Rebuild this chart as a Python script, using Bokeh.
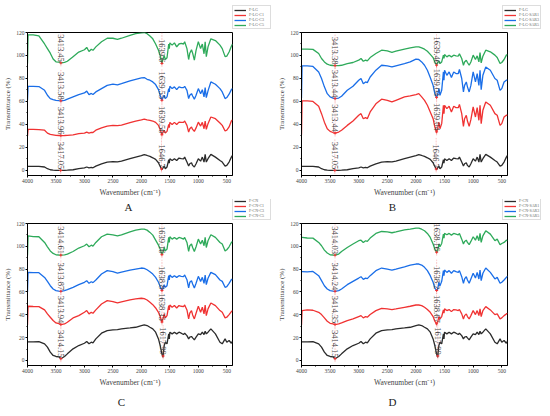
import numpy as np
from bokeh.plotting import figure
from bokeh.models import Range1d, Label, Legend, LegendItem, FixedTicker, ColumnDataSource
from bokeh.layouts import column, row
from bokeh.embed import file_html
from bokeh.resources import INLINE
from bokeh.core.properties import value

# wavenumber grid (cm-1)
W = [4000, 3990, 3900, 3800, 3700, 3650, 3600, 3550, 3500, 3450,
     3413, 3350, 3300, 3200, 3100, 3000, 2960, 2920, 2880, 2850,
     2800, 2700, 2600, 2500, 2420, 2350, 2200, 2100, 2000, 1950,
     1900, 1850, 1800, 1750, 1700, 1670, 1640, 1620, 1600, 1580,
     1550, 1520, 1510, 1500, 1460, 1420, 1380, 1340, 1300, 1260,
     1240, 1200, 1170, 1150, 1120, 1100, 1070, 1040, 1000, 960,
     930, 900, 880, 860, 830, 780, 700, 620, 580, 530,
     500, 460, 420, 400]

# transmittance (%) series
LG = [3.5, 3.5, 3.6, 3.5, 3.0, 1.5, 0.6, 0.2, 0.0, 0.0,
      0.0, 0.1, 0.2, 0.6, 1.5, 2.3, 3.0, 2.2, 2.6, 2.3,
      3.8, 5.8, 7.3, 7.6, 7.5, 8.1, 10.2, 11.6, 12.8, 13.7,
      13.0, 12.2, 11.0, 9.6, 6.7, 3.5, 0.6, 2.3, 3.8, 1.5,
      3.0, 9.3, 6.4, 10.2, 8.7, 10.2, 8.7, 10.8, 10.2, 10.0,
      11.6, 7.3, 3.8, 5.8, 6.7, 4.4, 3.0, 5.8, 10.2, 8.1,
      11.6, 7.3, 14.0, 7.3, 10.2, 14.0, 11.6, 8.7, 7.3, 3.8,
      4.4, 7.3, 11.6, 13.0]
LG_C1 = [30, 35.8, 35.8, 35.5, 35.0, 32.5, 31.4, 31.0, 30.5, 30.4,
         30.3, 30.4, 30.5, 31.0, 32.0, 32.5, 33.4, 32.5, 33.2, 33.0,
         35.0, 37.0, 38.6, 39.2, 39.0, 39.5, 41.6, 43.0, 44.0, 44.7,
         44.0, 43.6, 43.0, 41.8, 39.2, 35.5, 31.0, 33.0, 35.0, 32.5,
         34.0, 40.0, 37.2, 41.8, 40.0, 41.8, 40.0, 42.0, 41.8, 41.8,
         43.0, 39.2, 33.4, 36.3, 37.8, 35.7, 34.0, 37.0, 42.0, 38.6,
         41.8, 36.3, 43.0, 35.7, 40.7, 46.5, 45.0, 41.3, 39.2, 34.3,
         35.0, 37.8, 43.0, 44.0]
LG_C3 = [61, 73.2, 73.2, 73.0, 69.7, 65.4, 62.5, 61.6, 61.0, 60.7,
         60.5, 61.0, 62.0, 64.0, 66.0, 67.4, 69.0, 66.0, 67.0, 66.0,
         68.3, 71.2, 74.0, 75.0, 74.4, 75.5, 78.0, 79.3, 80.5, 80.8,
         79.3, 78.5, 77.0, 74.7, 70.3, 65.4, 61.0, 63.4, 65.4, 62.5,
         64.0, 71.2, 68.3, 73.2, 71.2, 72.7, 70.3, 72.7, 72.0, 72.0,
         73.2, 69.7, 62.5, 65.4, 66.8, 64.8, 62.0, 65.4, 71.2, 66.8,
         70.3, 64.0, 72.0, 63.4, 69.2, 77.0, 75.0, 71.2, 68.3, 62.5,
         63.4, 66.3, 70.3, 71.2]
LG_C5 = [93, 118, 118, 117, 110, 106, 102, 97, 94.5, 94.2,
         93.5, 94, 95, 99, 103, 105, 107, 103.5, 105.5, 104.5,
         107.5, 112, 115, 115, 114, 115, 117.5, 119, 119.7, 120,
         119, 117, 114.5, 110, 104.5, 100, 93, 97, 100, 96.5,
         98, 110, 106, 111, 109, 111, 107.5, 110, 110.5, 110,
         112, 106, 96.5, 102, 105, 102, 96, 104.5, 112, 106,
         110, 101.5, 112, 99, 107.5, 114.5, 113, 109, 106, 99,
         99.5, 103, 108, 110]
LG_SAR1 = [31, 60.5, 60.5, 60, 55.8, 49.4, 42, 36.3, 34, 33,
           32.5, 33.4, 35, 39.2, 43, 48, 49.4, 45, 46, 45,
           50.9, 58, 62, 61, 59.6, 61, 64, 64.8, 66, 66.8,
           64, 61, 56.7, 50.9, 45, 37.8, 33.4, 36.3, 42, 36.3,
           40.7, 56.7, 49.4, 56.7, 53.8, 55.8, 50.9, 55.8, 54.6, 54.6,
           57.5, 49.4, 38.4, 45, 48, 43, 38.4, 44.2, 55.2, 46.5,
           54.6, 43.6, 56.7, 40.7, 52.3, 59.6, 56.7, 49.4, 48, 39.2,
           40.7, 46.5, 48, 48]
LG_SAR3 = [63, 91, 91, 90.5, 85.7, 80, 72.7, 66.8, 64, 63,
           62.5, 63, 64.5, 69.7, 73.2, 78.5, 80, 75.5, 77, 76.4,
           81.3, 87.2, 91.5, 91, 90, 91, 93, 94.4, 96.8, 96.5,
           94.4, 91.5, 87.2, 80.8, 74, 66.8, 63.4, 66, 71.2, 65.4,
           69.7, 85.7, 78.5, 87.2, 82.8, 85.7, 80.8, 85.7, 84.3, 84.3,
           87.8, 80, 68.3, 74, 77, 72.7, 68.3, 74, 85.7, 77,
           84.3, 74, 87.2, 70.3, 82.8, 90, 87.2, 80, 78.5, 69.7,
           71.2, 77, 78.5, 78.5]
LG_SAR5 = [105.5, 105.5, 105.5, 105.3, 101.7, 97.4, 94.4, 92.4, 91.5, 91.3,
           91.2, 91.2, 91.5, 93, 93.9, 95.9, 97.4, 95, 96, 95.3,
           98.2, 101.7, 104.6, 104, 102.8, 103.7, 105.5, 106.6, 107.5, 107.5,
           106.6, 105.5, 103.7, 101, 98.2, 94.4, 91.5, 93.6, 95.3, 93,
           94.4, 100.3, 97.4, 100.8, 98.8, 100.3, 98.8, 100.3, 99.7, 99.5,
           101.4, 97.4, 91.5, 94.4, 95.9, 93.9, 91.5, 94.4, 100.3, 96.5,
           99.7, 94.4, 102.6, 93.6, 99.4, 104.6, 103.2, 100.3, 98.2, 93,
           93.9, 96.5, 100.3, 100.8]
CN = [16.3, 16.3, 16.3, 16.6, 14.6, 11.7, 7.3, 4.4, 3.5, 3.2,
      1.5, 3.5, 5.8, 10.2, 13.1, 15.1, 16.6, 14.6, 16, 15.4,
      18.9, 23.9, 26.2, 26.8, 27.1, 27.7, 28.5, 29.1, 30.6, 31.2,
      30.6, 29.1, 27.7, 24.8, 18.9, 13.1, 5.8, 2.9, 13.1, 16,
      14.6, 23.3, 18.9, 24.8, 23.3, 24.8, 23.3, 24.8, 23.9, 22.7,
      23.9, 21.8, 18.9, 20.4, 21, 19.8, 18.1, 20.4, 23.3, 22.7,
      24.8, 22.7, 25.6, 23.3, 24.8, 27.7, 23.3, 16, 14.6, 18.9,
      16, 17.5, 15.1, 16.9]
CN_C1 = [31, 47.5, 47.3, 47.2, 44.3, 40.8, 37.9, 35, 32.9, 32.2,
         31.5, 32, 33.5, 37.3, 39.3, 42.2, 43.7, 40.8, 42.2, 41.4,
         44.3, 49.5, 52.4, 51.6, 50.4, 51.3, 53, 53.9, 54.5, 54.2,
         53, 51, 48.9, 46, 42.2, 38.5, 33.5, 36.4, 40.8, 37.3,
         39.3, 48.1, 44.3, 48.6, 46.6, 48.1, 46, 48.1, 47.5, 47.2,
         48.6, 44.3, 36.4, 41.4, 43.7, 39.9, 36.4, 41.4, 47.5, 42.2,
         46.6, 40.8, 48.6, 39.3, 45.2, 50.4, 48.1, 43.7, 42.2, 37.3,
         37.9, 40.2, 42.8, 43.7]
CN_C3 = [60, 77.2, 77, 76.9, 72.8, 69.3, 65.5, 62.6, 61.2, 60.8,
         60.6, 61.2, 62, 64.1, 66.4, 68.5, 69.9, 67.6, 69, 68.2,
         70.5, 75.7, 78.7, 77.8, 76.6, 77.5, 79.2, 80.1, 81, 80.7,
         79.5, 77.8, 75.7, 72.8, 68.5, 64.7, 61.2, 63.2, 66.4, 64.1,
         65.5, 74.3, 70.5, 74.9, 72.8, 74.3, 72.8, 74.3, 73.7, 73.4,
         74.9, 70.8, 63.5, 68.5, 69.9, 67, 63.5, 67.6, 73.7, 69.3,
         72.8, 67.6, 74.9, 66.4, 72, 77.2, 75.2, 70.5, 69.3, 64.1,
         64.7, 67.6, 70.8, 71.4]
CN_C5 = [92, 109.2, 108.5, 108.4, 103.4, 99.6, 96, 93.8, 92.6, 92.4,
         92.3, 92.6, 93.2, 95.5, 98.5, 100.5, 102, 99.6, 101, 100.2,
         103.4, 108.4, 110.7, 110.1, 109.2, 110.1, 112.7, 114.2, 115, 115,
         114.2, 112.2, 109.8, 105.4, 101, 97.6, 92.6, 94.7, 99, 96,
         97.6, 107.8, 103.4, 108.4, 106.3, 107.8, 106.3, 107.8, 107.2, 106.3,
         107.8, 103.4, 95.5, 100.5, 102, 99, 95.5, 99.6, 106.3, 102,
         105.4, 100.5, 107.8, 99, 104.9, 110.1, 107.8, 103.4, 102, 96,
         97, 99.6, 103.4, 104.3]
CN_SAR1 = [31, 43.7, 44.3, 44, 42.2, 40.2, 37.3, 34.4, 32.6, 32,
           31.5, 32, 32.9, 35, 36.4, 38.5, 39.3, 37.3, 38.5, 37.9,
           40.2, 43.7, 45.7, 45.2, 44.6, 45.2, 46.6, 47.5, 48.6, 48.6,
           48.1, 46.6, 44.6, 42.2, 38.5, 34.4, 32, 33.5, 38.5, 36.4,
           38.5, 44.3, 41.4, 45.2, 43.7, 44.6, 42.8, 44.6, 44.3, 43.7,
           44.6, 40.8, 36.4, 39.3, 40.8, 38.5, 36.4, 39.3, 43.7, 40.2,
           43.7, 39.3, 45.2, 38.5, 43.7, 47.2, 44.3, 40.2, 40.8, 36.4,
           37.3, 39.3, 40.8, 41.4]
CN_SAR3 = [77.8, 77.8, 77.6, 78, 74.3, 69.9, 65.5, 62.6, 61.2, 60.8,
           60.6, 61.2, 62.6, 66.4, 69.3, 72.2, 73.4, 71.1, 72.2, 71.7,
           74.3, 78.7, 81, 80.1, 79.2, 80.1, 82.1, 83.6, 84.5, 84.5,
           83.6, 81.6, 78.7, 74.3, 68.5, 63.5, 61.2, 62.6, 68.5, 65.5,
           69.3, 78.7, 74.3, 79.2, 77.2, 78.7, 76.4, 78.7, 77.8, 77.2,
           78.7, 73.4, 67.6, 71.4, 73.4, 70.5, 67.6, 71.4, 76.4, 72.2,
           77.2, 71.4, 79.2, 69.9, 76.4, 81, 77.2, 71.4, 72.8, 67.6,
           68.5, 70.5, 72.8, 73.7]
CN_SAR5 = [107.8, 107.8, 107.3, 107.2, 103.4, 100.5, 96.7, 94.1, 92.6, 92.4,
           92.3, 93.2, 95.5, 99, 102, 104.9, 105.4, 103.4, 104.9, 104.3,
           107.2, 111.3, 113, 112.7, 111.9, 112.7, 114.5, 115, 116, 116,
           115, 113.6, 111.3, 107.8, 102, 97.6, 94.7, 96, 102, 99.6,
           102.5, 110.7, 107.2, 111.3, 110.1, 111.3, 109.8, 111.3, 110.7, 110.1,
           111.3, 106.3, 102, 104.3, 105.4, 103.4, 101.4, 104.3, 108.4, 105.4,
           109.2, 104.9, 111.3, 103.4, 109.2, 113.6, 110.7, 104.9, 106.3, 101.4,
           102.5, 103.4, 105.4, 104.9]

X_TICKS = [4000, 3500, 3000, 2500, 2000, 1500, 1000, 500]
Y_TICKS = [0, 20, 40, 60, 80, 100, 120]

PANELS = [
    dict(letter="A", names=["F-LG", "F-LG-C1", "F-LG-C3", "F-LG-C5"],
         series=[LG, LG_C1, LG_C3, LG_C5],
         oh=["3417.05", "3413.96", "3413.58", "3413.45"],
         co=["1646.7", "1639.56", "1639.55", "1639.6"]),
    dict(letter="B", names=["F-LG", "F-LG-SAR1", "F-LG-SAR3", "F-LG-SAR5"],
         series=[LG, LG_SAR1, LG_SAR3, LG_SAR5],
         oh=["3417.05", "3413.44", "3413.44", "3413.38"],
         co=["1646.7", "1639.04", "1639.04", "1639.46"]),
    dict(letter="C", names=["F-CN", "F-CN-C1", "F-CN-C3", "F-CN-C5"],
         series=[CN, CN_C1, CN_C3, CN_C5],
         oh=["3414.15", "3413.94", "3413.87", "3414.61"],
         co=["1617.99", "1638.35", "1638.8", "1639.16"]),
    dict(letter="D", names=["F-CN", "F-CN-SAR1", "F-CN-SAR3", "F-CN-SAR5"],
         series=[CN, CN_SAR1, CN_SAR3, CN_SAR5],
         oh=["3414.15", "3414.35", "3414.24", "3414.03"],
         co=["1617.99", "1638.67", "1638.2", "1638.16"]),
]

COLORS = ["#2b2b2b", "#f03232", "#1a6ee8", "#2eaa5a"]
SERIF = "Liberation Serif"
COL_W = [275, 273]

# main panels geometry: (left, right, top, bottom, frame_w, frame_h)
GEOM = [
    (27, 43, 3, 22, 205, 143),
    (21, 46, 3, 22, 206, 143),
    (27, 43, 3, 22, 205, 142),
    (21, 46, 3, 22, 206, 142),
]

wa = np.array(W[::-1], dtype=float)


def strip(width, height):
    s = figure(width=width, height=height, output_backend="svg", toolbar_location=None,
               x_range=Range1d(0, width), y_range=Range1d(0, height),
               x_axis_location=None, y_axis_location=None, min_border=0)
    s.grid.visible = False
    s.outline_line_color = None
    s.border_fill_color = "white"
    s.background_fill_color = "white"
    return s


def add_legend(s, pan, x0, y0):
    items = []
    for name, color in zip(pan["names"], COLORS):
        # placeholder renderer (no visible data) that only supplies the legend glyph
        src = ColumnDataSource(dict(x=[np.nan], y=[np.nan]))
        rr = s.line(x="x", y="y", source=src, line_color=color, line_width=1.3)
        items.append(LegendItem(label=name, renderers=[rr]))
    leg = Legend(items=items, location=(x0, y0), orientation="vertical")
    leg.label_text_font_size = "4px"
    leg.label_text_font = SERIF
    leg.label_text_color = "#666"
    leg.label_height = 4
    leg.label_standoff = 3
    leg.glyph_width = 12
    leg.glyph_height = 4
    leg.spacing = 0
    leg.padding = 1
    leg.margin = 0
    leg.border_line_color = "#bbbbbb"
    leg.border_line_width = 0.6
    leg.background_fill_alpha = 1
    s.add_layout(leg)


def add_letter(s, text, x, y):
    s.add_layout(Label(x=x, y=y, text=text, text_align="center", text_baseline="middle",
                       text_font=SERIF, text_font_size="11px", text_color="#222"))


def make_panel(pan, geom):
    l, r, t, b, fw, fh = geom
    p = figure(frame_width=fw, frame_height=fh, output_backend="svg",
               toolbar_location=None, x_range=Range1d(4000, 400),
               y_range=Range1d(-4.4, 120),
               min_border_left=l, min_border_right=r,
               min_border_top=t, min_border_bottom=b)
    p.grid.visible = False
    p.outline_line_color = "black"
    p.outline_line_width = 1
    p.background_fill_color = "white"
    p.border_fill_color = "white"
    p.xaxis.ticker = FixedTicker(ticks=X_TICKS, minor_ticks=[v - 250 for v in X_TICKS])
    p.yaxis.ticker = FixedTicker(ticks=Y_TICKS, minor_ticks=[v + 10 for v in Y_TICKS[:-1]])
    p.xaxis.axis_label = "Wavenumber (cm\u207b\u00b9)"
    p.yaxis.axis_label = "Transmittance (%)"
    for ax in (p.xaxis, p.yaxis):
        ax.axis_label_text_font = SERIF
        ax.axis_label_text_font_style = "normal"
        ax.axis_label_text_font_size = "7.5px"
        ax.axis_label_text_color = "#444"
        ax.axis_label_standoff = 2
        ax.major_label_text_font = SERIF
        ax.major_label_text_font_size = "5.5px"
        ax.major_label_text_color = "#444"
        ax.major_label_standoff = 1
        ax.major_tick_out = 2
        ax.major_tick_in = 0
        ax.minor_tick_out = 1
        ax.minor_tick_in = 0
        ax.axis_line_color = "black"
    p.yaxis.axis_label_standoff = 1
    p.yaxis.axis_label_text_font_size = "7px"

    px, py, pt = [], [], []
    for s, color, oh, co in zip(pan["series"], COLORS, pan["oh"], pan["co"]):
        p.line(W, s, line_color=color, line_width=1.3)
        sa = np.array(s[::-1], dtype=float)
        for lab in (oh, co):
            xv = float(lab)
            yv = float(np.interp(xv, wa, sa))
            px.append(xv)
            py.append(yv)
            pt.append(lab)

    src = ColumnDataSource(dict(x=px, y0=[v - 3 for v in py], y1=[v + 27 for v in py],
                                y=py, yt=[v + 1 for v in py], t=pt))
    p.segment(x0="x", y0="y0", x1="x", y1="y1", source=src, line_color="#f06060",
              line_width=0.7, line_dash="2 1", line_alpha=0.5)
    p.scatter(x="x", y="y", source=src, marker="cross", size=3, line_color="#f03232",
              line_width=1)
    p.text(x="x", y="yt", text="t", source=src, angle=-np.pi / 2, text_align="right",
           text_baseline="middle", text_font=value(SERIF), text_font_size="8.5px",
           text_color="#444444")
    return p


mains = [make_panel(pan, g) for pan, g in zip(PANELS, GEOM)]

# strip 1: legends of A and B
s1a, s1b = strip(COL_W[0], 29), strip(COL_W[1], 29)
add_legend(s1a, PANELS[0], 232, 0)
add_legend(s1b, PANELS[1], 227, 0)

# strip 2: letters A, B and legends of C and D
s2a, s2b = strip(COL_W[0], 21), strip(COL_W[1], 21)
add_letter(s2a, PANELS[0]["letter"], 128, 14)
add_letter(s2b, PANELS[1]["letter"], 117, 14)
add_legend(s2a, PANELS[2], 232, 0)
add_legend(s2b, PANELS[3], 227, 0)

# strip 3: letters C and D
s3a, s3b = strip(COL_W[0], 24), strip(COL_W[1], 24)
add_letter(s3a, PANELS[2]["letter"], 121, 12)
add_letter(s3b, PANELS[3]["letter"], 117, 12)

layout = column(
    row(s1a, s1b, spacing=0),
    row(mains[0], mains[1], spacing=0),
    row(s2a, s2b, spacing=0),
    row(mains[2], mains[3], spacing=0),
    row(s3a, s3b, spacing=0),
    spacing=0,
)

open("out.html", "w").write(file_html(layout, INLINE))
